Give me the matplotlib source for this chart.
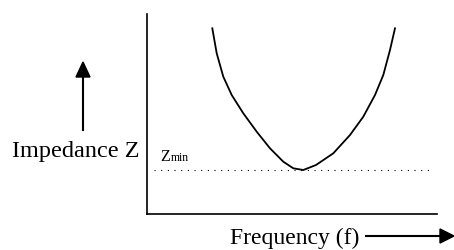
import matplotlib.pyplot as plt

# curve (frequency, impedance), arbitrary units
freq = [65.3, 69.7, 76.3, 84.7, 96.3, 109.7, 123, 136.3, 146.3, 156.3,
        169, 186.3, 203, 216.3, 228, 236.3, 243, 248]
imped = [185.7, 160.7, 137.3, 119, 100.7, 82.3, 65.7, 52.3, 45.7, 44,
         49, 60.7, 79, 97.3, 119, 139, 164, 185.7]
z_min = 44

W, H = 454, 250
fig = plt.figure(figsize=(W / 100, H / 100), dpi=100)
plt.rcParams['font.family'] = ['Liberation Serif', 'DejaVu Serif']

ax = fig.add_axes([147 / W, 36 / H, 290 / W, 200 / H])
ax.plot(freq, imped, color='black', lw=1.3, solid_joinstyle='round')
ax.plot([7, 283], [z_min, z_min], color='black', lw=0.8, linestyle=(0, (1, 5)))
ax.set_xlim(0, 290)
ax.set_ylim(0, 200)
ax.set_xticks([])
ax.set_yticks([])
for side in ['top', 'right']:
    ax.spines[side].set_visible(False)
for side in ['left', 'bottom']:
    ax.spines[side].set_linewidth(1.2)

ax.text(13, z_min + 9, 'Z', fontsize=11.5, va='baseline')
ax.text(23.5, z_min + 9, 'min', fontsize=8.5, va='baseline')

# y label and arrow
fig.text(12 / W, 1 - 157 / H, 'Impedance Z', fontsize=17.5, va='baseline', ha='left')
fig.add_artist(plt.Line2D([83 / W, 83 / W], [1 - 130 / H, 1 - 74 / H], color='black', lw=1.5))
fig.patches.append(plt.Polygon([[76 / W, 1 - 77 / H], [90 / W, 1 - 77 / H], [83 / W, 1 - 62 / H]],
                               closed=True, color='black', transform=fig.transFigure))

# x label and arrow
fig.text(230 / W, 1 - 244 / H, 'Frequency (f)', fontsize=17, va='baseline', ha='left')
fig.add_artist(plt.Line2D([366 / W, 442 / W], [1 - 236 / H, 1 - 236 / H], color='black', lw=1.5))
fig.patches.append(plt.Polygon([[440 / W, 1 - 229 / H], [440 / W, 1 - 243 / H], [454 / W, 1 - 236 / H]],
                               closed=True, color='black', transform=fig.transFigure))

fig.savefig('out.png', dpi=100)
